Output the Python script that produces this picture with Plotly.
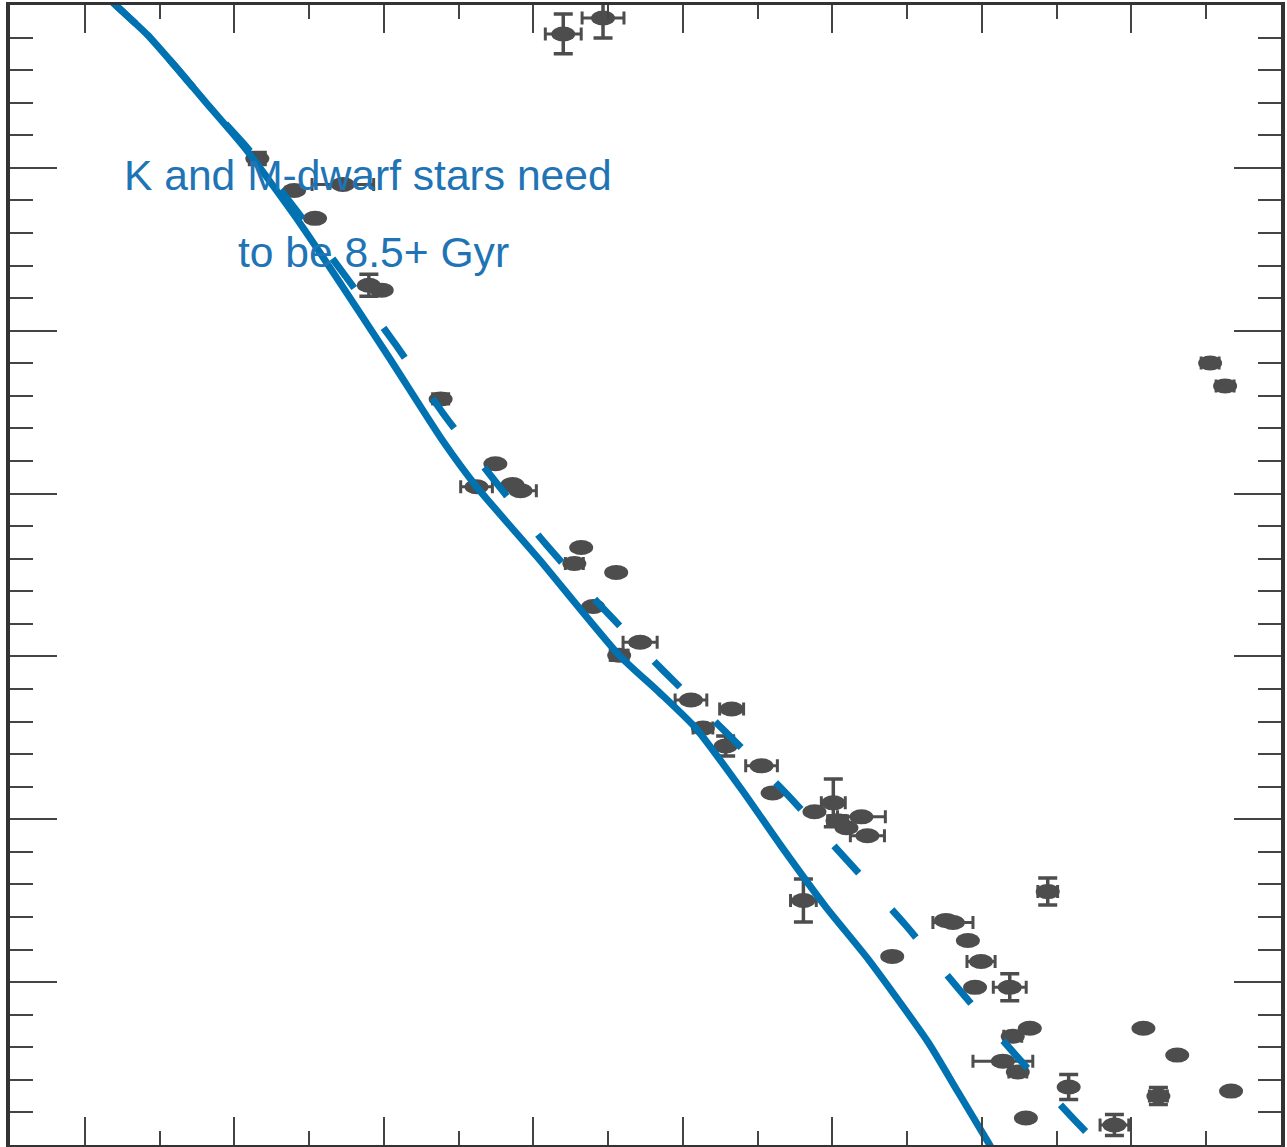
import plotly.graph_objects as go

# Field stars: colour index, absolute magnitude and their 1-sigma errors
star_col = [2.600, 2.733, 1.577, 1.700, 1.863, 1.770, 1.950, 1.993, 2.190,
            2.373, 2.310, 2.430, 2.457, 2.660, 2.637, 2.777, 2.700, 2.857,
            2.787, 3.027, 3.163, 3.067, 3.143, 3.263, 3.300, 3.440, 3.503,
            3.517, 3.547, 3.597, 3.617, 3.403, 3.700, 4.220, 3.903, 3.880,
            3.953, 3.997, 3.977, 4.093, 4.160, 4.103, 4.070, 4.120, 4.147,
            4.290, 4.443, 4.540, 4.653, 4.590, 4.833, 4.763, 4.813]
star_mag = [4.178, 4.080, 4.943, 5.139, 5.102, 5.310, 5.721, 5.751, 6.419,
            6.817, 6.958, 6.945, 6.982, 7.331, 7.429, 7.484, 7.693, 7.913,
            7.993, 8.268, 8.323, 8.440, 8.550, 8.672, 8.838, 8.954, 8.899,
            9.009, 9.052, 8.985, 9.101, 9.499, 9.842, 9.444, 9.634, 9.621,
            9.744, 9.873, 10.032, 10.032, 10.283, 10.332, 10.485, 10.552, 10.834,
            10.644, 10.877, 10.283, 10.448, 10.699, 10.669, 6.198, 6.339]
star_col_err = [0.060, 0.070, 0.0, 0.0, 0.103, 0.0, 0.0, 0.0, 0.0,
                0.0, 0.053, 0.0, 0.053, 0.0, 0.030, 0.0, 0.0, 0.057,
                0.030, 0.053, 0.040, 0.033, 0.0, 0.053, 0.0, 0.0, 0.040,
                0.033, 0.0, 0.080, 0.057, 0.043, 0.0, 0.033, 0.067, 0.0,
                0.0, 0.047, 0.0, 0.055, 0.0, 0.030, 0.100, 0.030, 0.0,
                0.0, 0.048, 0.0, 0.0, 0.030, 0.0, 0.030, 0.030]
star_mag_err = [0.122, 0.122, 0.037, 0.0, 0.0, 0.0, 0.067, 0.0, 0.030,
                0.0, 0.0, 0.0, 0.0, 0.0, 0.0, 0.0, 0.0, 0.0,
                0.030, 0.0, 0.0, 0.0, 0.061, 0.0, 0.0, 0.0, 0.147,
                0.030, 0.0, 0.0, 0.0, 0.132, 0.0, 0.083, 0.0, 0.0,
                0.0, 0.0, 0.0, 0.083, 0.0, 0.0, 0.0, 0.0, 0.0,
                0.077, 0.064, 0.0, 0.0, 0.052, 0.0, 0.0, 0.0]

# Isochrones: younger track (solid) and the 8.5 Gyr track (dashed)
iso_solid_col = [1.050, 1.103, 1.210, 1.310, 1.403, 1.537, 1.720, 2.010, 2.197,
                 2.310, 2.520, 2.787, 2.920, 3.043, 3.197, 3.330, 3.477, 3.620,
                 3.820, 3.920, 4.020, 4.053]
iso_solid_mag = [3.902, 4.000, 4.184, 4.392, 4.594, 4.882, 5.341, 6.143, 6.676,
                 6.958, 7.405, 7.993, 8.219, 8.440, 8.819, 9.168, 9.536, 9.860,
                 10.369, 10.675, 10.981, 11.085]
iso_old_col = [1.079, 1.103, 1.210, 1.310, 1.403, 1.543, 1.710, 1.877, 2.043,
               2.197, 2.363, 2.537, 2.727, 2.933, 3.143, 3.350, 3.547, 3.743,
               3.923, 4.110, 4.303, 4.420]
iso_old_mag = [3.958, 4.000, 4.184, 4.392, 4.594, 4.876, 5.268, 5.678, 6.094,
               6.505, 6.903, 7.301, 7.693, 8.085, 8.464, 8.850, 9.248, 9.646,
               10.044, 10.442, 10.834, 11.054]

GREY = "#4d4d4d"
BLUE = "#0072b2"

fig = go.Figure()

# Error bars (the ellipse symbols themselves are drawn as shapes)
fig.add_trace(go.Scatter(
    x=star_col, y=star_mag, mode="markers",
    marker=dict(size=1, color="rgba(0,0,0,0)"),
    error_x=dict(type="data", array=star_col_err, visible=True,
                 color=GREY, thickness=3, width=6.5),
    error_y=dict(type="data", array=star_mag_err, visible=True,
                 color=GREY, thickness=3.5, width=9.5),
    hoverinfo="skip", showlegend=False,
))

fig.add_trace(go.Scatter(
    x=iso_solid_col, y=iso_solid_mag, mode="lines",
    line=dict(color=BLUE, width=7, shape="spline", smoothing=0.6),
    showlegend=False,
))
fig.add_trace(go.Scatter(
    x=iso_old_col, y=iso_old_mag, mode="lines",
    line=dict(color=BLUE, width=7, dash="37px,49px", shape="spline", smoothing=0.5),
    showlegend=False,
))

# Elliptical star symbols, anchored at each star and sized in pixels
fig.update_layout(shapes=[
    dict(type="circle", xref="x", yref="y",
         xsizemode="pixel", ysizemode="pixel",
         xanchor=c, yanchor=m, x0=-12, x1=12, y0=-7.5, y1=7.5,
         fillcolor=GREY, line=dict(width=0), layer="below")
    for c, m in zip(star_col, star_mag)
])

txt_font = dict(family="Liberation Sans, Arial, sans-serif", size=42.6, color="#1f74b5")
fig.add_annotation(text="K and M-dwarf stars need", xref="paper", yref="paper",
                   x=0.2815, y=0.8505, xanchor="center", yanchor="middle",
                   showarrow=False, font=txt_font)
fig.add_annotation(text="to be 8.5+ Gyr", xref="paper", yref="paper",
                   x=0.2858, y=0.7835, xanchor="center", yanchor="middle",
                   showarrow=False, font=txt_font)

fig.update_xaxes(
    range=[0.75, 5.0], showgrid=False, zeroline=False, showticklabels=False,
    showline=True, linecolor="#333333", linewidth=3, mirror="allticks",
    ticks="inside", ticklen=28, tickwidth=2, tickcolor="#444444",
    tick0=1.0, dtick=0.5,
    minor=dict(ticks="inside", ticklen=14, tickwidth=2, tickcolor="#444444",
               tick0=0.75, dtick=0.25, showgrid=False),
)
fig.update_yaxes(
    range=[11, 4], showgrid=False, zeroline=False, showticklabels=False,
    showline=True, linecolor="#333333", linewidth=4, mirror="allticks",
    ticks="inside", ticklen=47, tickwidth=2, tickcolor="#444444",
    tick0=4, dtick=1,
    minor=dict(ticks="inside", ticklen=23, tickwidth=2, tickcolor="#444444",
               tick0=4, dtick=0.2, showgrid=False),
)

fig.update_layout(
    width=1287, height=1147,
    margin=dict(l=10, r=2, t=3, b=2),
    paper_bgcolor="white", plot_bgcolor="white",
    showlegend=False,
)

fig.write_html("out.html")
